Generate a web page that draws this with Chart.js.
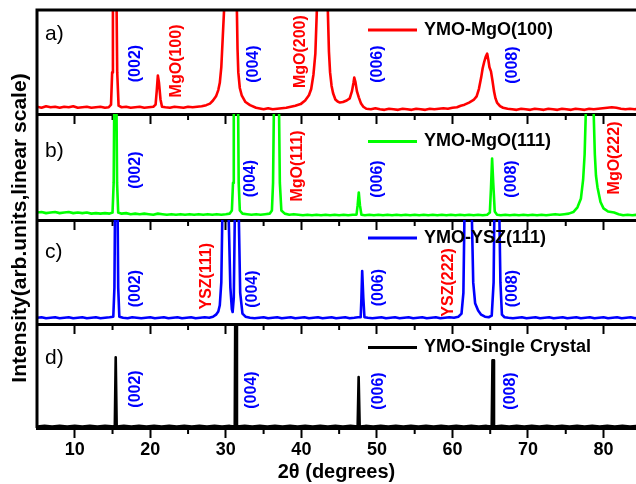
<!DOCTYPE html>
<html>
<head>
<meta charset="utf-8">
<script src="https://cdn.jsdelivr.net/npm/chart.js@4.4.1/dist/chart.umd.min.js"></script>
<style>
  body { margin: 0; background: #fff; }
  #wrap { position: relative; width: 636px; height: 484px; }
  #wrap canvas { position: absolute; left: 0; top: 0; }
</style>
</head>
<body>
<div id="wrap">
  <canvas id="panelA" width="636" height="484"></canvas>
  <canvas id="panelB" width="636" height="484"></canvas>
  <canvas id="panelC" width="636" height="484"></canvas>
  <canvas id="panelD" width="636" height="484"></canvas>
</div>
<script>
// 2theta range and tick labels
const thetaMin = 5;
const thetaMax = 84.3;
const thetaTicks = [10, 20, 30, 40, 50, 60, 70, 80];

// series names
const sampleNames = ['YMO-MgO(100)', 'YMO-MgO(111)', 'YMO-YSZ(111)', 'YMO-Single Crystal'];

// scans: [2theta, intensity] with 100 = top of each panel
const scanA = [[5,7],[5.6,6],[6.2,7.5],[6.8,6.5],[7.4,7],[8,6],[8.6,7],[9.2,6.5],[9.8,7.5],[10.4,6],[11,6.5],[11.6,7],[12.2,6],[12.8,6.5],[13.4,7],[14,6],[14.5,6.5],[14.8,9],[14.95,40],[15.05,130],[15.5,130],[15.62,40],[15.8,8],[16.2,6.5],[16.8,7],[17.4,6],[18,6.5],[18.6,7],[19.2,6],[19.8,6.5],[20.4,7],[20.7,9],[20.85,22],[21.0,37],[21.15,30],[21.35,14],[21.55,7],[22,6.5],[22.6,6],[23.2,7],[23.8,6.5],[24.4,6],[25,7],[25.6,6.5],[26.2,7],[26.8,7.5],[27.4,8.5],[27.9,10],[28.3,13],[28.7,17],[29.0,23],[29.2,30],[29.4,45],[29.6,75],[29.8,105],[30.2,250],[31.0,250],[31.45,105],[31.55,62],[31.65,40],[31.85,25],[32.1,18],[32.6,11.5],[33.2,8.5],[34,6],[35,4.5],[35.6,5.5],[36.2,4.5],[36.8,5],[37.4,5.5],[38,6],[38.6,7],[39.2,8],[39.9,9.5],[40.5,13],[41.0,18],[41.3,24],[41.6,38],[41.85,58],[42.05,100],[42.4,260],[43.2,260],[43.5,100],[43.65,60],[43.8,40],[44.0,27],[44.2,20],[44.5,14],[44.8,12],[45.1,11],[45.5,11.5],[46.0,13],[46.4,15],[46.7,22],[46.9,30],[47.0,35],[47.15,31],[47.35,22],[47.6,16],[47.9,10],[48.2,7],[48.6,5],[49.2,4.5],[49.8,5.5],[50.4,4.5],[51,4],[51.6,5],[52.2,4.5],[52.8,4],[53.4,5],[54,4.5],[54.6,4],[55.2,5],[55.8,4.5],[56.4,4],[57,5],[57.6,4.5],[58.2,5],[58.8,5.5],[59.4,5],[60,6],[60.6,6.5],[61.1,8],[61.6,9],[62.2,11],[62.8,13.5],[63.2,17],[63.5,24],[63.8,35],[64.0,44],[64.2,50],[64.4,55],[64.6,58],[64.75,52],[64.9,45],[65.1,41],[65.3,32],[65.5,22],[65.7,15],[65.9,11],[66.3,7.5],[66.7,6],[67.3,5],[67.9,4.5],[68.5,4],[69.1,5],[69.7,4.5],[70.3,4],[70.9,5],[71.5,4.5],[72.1,4],[72.7,5],[73.3,4.5],[73.9,4],[74.5,5],[75.1,4.5],[75.7,4],[76.3,5],[76.9,4.5],[77.5,4],[78.1,5],[78.7,4.5],[79.3,5],[79.9,5.5],[80.5,6],[81.1,6.5],[81.7,6],[82.3,5],[82.9,4.5],[83.5,5],[84.1,4.5],[84.5,5]];

const scanB = [[5,7],[5.6,7.5],[6.2,6.5],[6.8,7],[7.4,7.5],[8,6.5],[8.6,7],[9.2,7.5],[9.8,6.5],[10.4,7],[11,6.5],[11.6,7],[12.2,6],[12.8,6.5],[13.4,6],[14,6.5],[14.6,6],[15.0,7],[15.15,35],[15.25,130],[15.5,130],[15.6,35],[15.75,7],[16.2,6],[16.8,6.5],[17.4,5.5],[18,6],[18.6,5.5],[19.2,6],[19.8,5.5],[20.4,5],[21,6],[21.6,5.5],[22.2,5],[22.8,5.5],[23.4,5],[24,5.5],[24.6,5],[25.2,5.5],[25.8,5],[26.4,5.5],[27,5],[27.6,5.5],[28.2,5],[28.8,5.5],[29.4,5],[30,5.5],[30.5,6],[30.8,9],[30.95,35],[31.05,130],[31.6,130],[31.7,35],[31.85,9],[32.2,6],[32.8,5.5],[33.4,5],[34,5.5],[34.6,5],[35.2,5.5],[35.8,6],[36.1,9],[36.25,35],[36.4,130],[37.0,130],[37.15,35],[37.35,9],[37.8,6],[38.4,5],[39,5.5],[39.6,5],[40.2,4.5],[40.8,5],[41.4,4.5],[42,5],[42.6,4.5],[43.2,5],[43.8,4.5],[44.4,5],[45,4.5],[45.6,5],[46.2,4.5],[46.8,5],[47.3,5],[47.45,14],[47.6,26],[47.75,14],[47.95,5],[48.4,4.5],[49,5],[49.6,4.5],[50.2,5],[50.8,4.5],[51.4,5],[52,4.5],[52.6,5],[53.2,4.5],[53.8,5],[54.4,4.5],[55,5],[55.6,4.5],[56.2,5],[56.8,4.5],[57.4,5],[58,4.5],[58.6,5],[59.2,4.5],[59.8,5],[60.4,4.5],[61,5],[61.6,4.5],[62.2,5],[62.8,4.5],[63.4,5],[64,4.5],[64.6,5],[64.95,7],[65.1,30],[65.25,58],[65.4,35],[65.6,8],[65.9,5],[66.4,4.5],[67,5],[67.6,4.5],[68.2,5],[68.8,4.5],[69.4,5],[70,4.5],[70.6,5],[71.2,4.5],[71.8,5],[72.4,4.5],[73,5],[73.6,5.5],[74.2,5],[74.8,5.5],[75.4,6],[76,7.5],[76.55,12],[77.0,20],[77.3,38],[77.5,62],[77.65,100],[78.1,280],[78.7,100],[78.85,62],[79.0,42],[79.2,31],[79.6,17],[80.0,11],[80.6,8],[81.4,7],[82,5.5],[82.6,4.5],[83.2,5],[83.8,4.5],[84.5,5]];

const scanC = [[5,6],[5.6,6.5],[6.2,5.5],[6.8,6],[7.4,6.5],[8,5.5],[8.6,6],[9.2,6.5],[9.8,5.5],[10.4,6],[11,6.5],[11.6,5.5],[12.2,6],[12.8,6.5],[13.4,5.5],[14,6],[14.6,6.5],[15.1,7],[15.25,35],[15.35,130],[15.65,130],[15.75,35],[15.9,7],[16.4,6],[17,5.5],[17.6,6.5],[18.2,6],[18.8,5.5],[19.4,6],[20,6.5],[20.6,5.5],[21.2,6],[21.8,6.5],[22.4,5.5],[23,6],[23.6,6.5],[24.2,5.5],[24.8,6],[25.4,6.5],[26,5.5],[26.6,6],[27.2,6.5],[27.8,6],[28.3,7],[28.7,9],[29.0,12],[29.2,18],[29.4,40],[29.55,110],[30.35,110],[30.6,35],[30.8,14],[30.9,11.5],[31.05,25],[31.2,110],[31.7,110],[31.9,30],[32.2,10],[32.6,7],[33.2,6],[33.8,5.5],[34.4,6],[35,6.5],[35.6,5.5],[36.2,6],[36.8,6.5],[37.4,5.5],[38,6],[38.6,6.5],[39.2,5.5],[39.8,6],[40.4,6.5],[41,5.5],[41.6,6],[42.2,6.5],[42.8,5.5],[43.4,6],[44,6.5],[44.6,5.5],[45.2,6],[45.8,6.5],[46.4,5.5],[47,6],[47.5,6.5],[47.85,6.5],[47.95,25],[48.05,51],[48.2,25],[48.35,6.5],[48.8,6],[49.4,5.5],[50,6],[50.6,6.5],[51.2,5.5],[51.8,6],[52.4,6.5],[53,5.5],[53.6,6],[54.2,6.5],[54.8,5.5],[55.4,6],[56,6.5],[56.6,5.5],[57.2,6],[57.8,6.5],[58.4,5.5],[59,6],[59.6,6.5],[60.2,6],[60.8,7],[61.2,10],[61.45,30],[61.6,110],[62.55,110],[62.75,40],[63.0,20],[63.4,13],[63.8,9],[64.3,7],[64.8,6.5],[65.2,8],[65.45,40],[65.55,110],[66.2,110],[66.35,40],[66.55,9],[66.9,6.5],[67.4,6],[68,5.5],[68.6,6],[69.2,6.5],[69.8,5.5],[70.4,6],[71,6.5],[71.6,5.5],[72.2,6],[72.8,6.5],[73.4,5.5],[74,6],[74.6,6.5],[75.2,5.5],[75.8,6],[76.4,6.5],[77,5.5],[77.6,6],[78.2,6.5],[78.8,5.5],[79.4,6],[80,6.5],[80.6,5.5],[81.2,6],[81.8,6.5],[82.4,5.5],[83,6],[83.6,6.5],[84.2,5.5],[84.5,6]];

const scanD = [[5,1.5],[6,2],[7,1.5],[8,2],[9,1.5],[10,2],[11,1.5],[12,2],[13,1.5],[14,2],[15.3,1.5],[15.42,68],[15.55,1.5],[16.5,2],[17.5,1.5],[18.5,2],[19.5,1.5],[20.5,2],[21.5,1.5],[22.5,2],[23.5,1.5],[24.5,2],[25.5,1.5],[26.5,2],[27.5,1.5],[28.5,2],[29.5,1.5],[30.5,2],[31.18,1.5],[31.27,150],[31.37,150],[31.47,1.5],[32.5,2],[33.5,1.5],[34.5,2],[35.5,1.5],[36.5,2],[37.5,1.5],[38.5,2],[39.5,1.5],[40.5,2],[41.5,1.5],[42.5,2],[43.5,1.5],[44.5,2],[45.5,1.5],[46.5,2],[47.45,1.5],[47.58,49],[47.72,1.5],[48.5,2],[49.5,1.5],[50.5,2],[51.5,1.5],[52.5,2],[53.5,1.5],[54.5,2],[55.5,1.5],[56.5,2],[57.5,1.5],[58.5,2],[59.5,1.5],[60.5,2],[61.5,1.5],[62.5,2],[63.5,1.5],[64.5,2],[65.2,1.5],[65.3,65],[65.4,65],[65.5,1.5],[66.5,2],[67.5,1.5],[68.5,2],[69.5,1.5],[70.5,2],[71.5,1.5],[72.5,2],[73.5,1.5],[74.5,2],[75.5,1.5],[76.5,2],[77.5,1.5],[78.5,2],[79.5,1.5],[80.5,2],[81.5,1.5],[82.5,2],[83.5,1.5],[84.5,2]];

// peak labels: [text, 2theta, height in panel units]
const peaksA = [['(002)', 18.1, 48.5], ['MgO(100)', 23.5, 51], ['(004)', 33.65, 48], ['MgO(200)', 39.9, 60], ['(006)', 50.1, 48], ['(008)', 67.95, 47]];
const peaksB = [['(002)', 18.1, 47], ['(004)', 33.3, 39], ['MgO(111)', 39.5, 51], ['(006)', 50.1, 38.7], ['(008)', 67.8, 38.7], ['MgO(222)', 81.5, 58.5]];
const peaksC = [['(002)', 18.0, 34], ['YSZ(111)', 27.5, 46], ['(004)', 33.5, 33.5], ['(006)', 50.2, 35], ['YSZ(222)', 59.5, 40], ['(008)', 67.9, 34]];
const peaksD = [['(002)', 18.1, 37.5], ['(004)', 33.4, 36.5], ['(006)', 50.2, 35.6], ['(008)', 67.7, 35.6]];

const FONT = '"Liberation Sans", Arial, sans-serif';
Chart.defaults.font.family = FONT;
Chart.defaults.color = '#000';

// frame, minor ticks, panel letter, legend and peak labels
const panelDecor = {
  id: 'panelDecor',
  afterDraw(chart, args, opts) {
    const { ctx, chartArea: area, scales: { x, y } } = chart;
    ctx.save();
    ctx.strokeStyle = '#000';
    ctx.lineWidth = 3;
    ctx.beginPath();
    ctx.moveTo(area.left, area.bottom);
    ctx.lineTo(area.left, area.top);
    if (opts.topBorder) ctx.lineTo(area.right + 2, area.top);
    ctx.stroke();

    ctx.lineWidth = 2;
    ctx.beginPath();
    for (let v = 15; v < x.max; v += 10) {
      const px = x.getPixelForValue(v);
      ctx.moveTo(px, area.bottom);
      ctx.lineTo(px, area.bottom + 6);
    }
    ctx.stroke();

    ctx.fillStyle = '#000';
    ctx.font = '21px ' + FONT;
    ctx.textAlign = 'left';
    ctx.textBaseline = 'middle';
    ctx.fillText(opts.letter, 45, area.top + opts.letterY);

    const ds = chart.data.datasets[0];
    const ly = area.top + opts.legendY;
    ctx.strokeStyle = ds.borderColor;
    ctx.lineWidth = 3;
    ctx.beginPath();
    ctx.moveTo(368, ly);
    ctx.lineTo(417, ly);
    ctx.stroke();
    ctx.font = 'bold 18px ' + FONT;
    ctx.fillText(ds.label, 424, ly);

    ctx.font = 'bold 16px ' + FONT;
    ctx.textAlign = 'center';
    opts.peaks.forEach(([text, tx, ty]) => {
      ctx.save();
      ctx.translate(x.getPixelForValue(tx), y.getPixelForValue(ty));
      ctx.rotate(-Math.PI / 2);
      ctx.fillStyle = text.startsWith('(') ? '#0000ff' : '#ff0000';
      ctx.fillText(text, 0, 0);
      ctx.restore();
    });

    if (opts.yTitle) {
      ctx.save();
      ctx.translate(20, 228);
      ctx.rotate(-Math.PI / 2);
      ctx.fillStyle = '#000';
      ctx.font = 'bold 21px ' + FONT;
      ctx.fillText(opts.yTitle, 0, 0);
      ctx.restore();
    }
    ctx.restore();
  }
};

function makePanel(id, scan, name, color, peaks, geo) {
  const last = geo.last;
  return new Chart(document.getElementById(id), {
    type: 'line',
    data: {
      datasets: [{
        label: name,
        data: scan,
        borderColor: color,
        borderWidth: 2.6,
        borderJoinStyle: 'round',
        pointRadius: 0,
        fill: false
      }]
    },
    options: {
      responsive: false,
      animation: false,
      events: [],
      layout: { padding: { left: 37, right: 0, top: geo.top, bottom: last ? 0 : 484 - geo.bottom - 10 } },
      plugins: {
        legend: { display: false },
        tooltip: { enabled: false },
        panelDecor: {
          letter: geo.letter, letterY: geo.letterY, legendY: geo.legendY,
          peaks: peaks, topBorder: geo.topBorder, yTitle: geo.yTitle
        }
      },
      scales: {
        x: {
          type: 'linear',
          min: thetaMin,
          max: thetaMax,
          afterFit: s => { s.height = last ? 484 - geo.bottom : 10; },
          afterBuildTicks: s => { s.ticks = thetaTicks.map(v => ({ value: v })); },
          ticks: {
            display: last,
            padding: 1,
            maxRotation: 0,
            autoSkip: false,
            font: { size: 18, weight: 'bold' },
            color: '#000'
          },
          grid: { drawOnChartArea: false, drawTicks: true, tickLength: 10, tickWidth: 2, tickColor: '#000' },
          border: { display: true, color: '#000', width: 3 },
          title: {
            display: last,
            text: '2θ (degrees)',
            font: { size: 20, weight: 'bold' },
            color: '#000',
            padding: { top: 0, bottom: 0 }
          }
        },
        y: { display: false, min: 0, max: 100 }
      }
    },
    plugins: [panelDecor]
  });
}

makePanel('panelA', scanA, sampleNames[0], '#ff0000', peaksA,
  { top: 10, bottom: 114, letter: 'a)', letterY: 24, legendY: 20, topBorder: true,
    yTitle: 'Intensity(arb.units,linear scale)' });
makePanel('panelB', scanB, sampleNames[1], '#00ff00', peaksB,
  { top: 114, bottom: 220, letter: 'b)', letterY: 37, legendY: 27.5 });
makePanel('panelC', scanC, sampleNames[2], '#0000ff', peaksC,
  { top: 220, bottom: 324, letter: 'c)', letterY: 32, legendY: 18 });
makePanel('panelD', scanD, sampleNames[3], '#000000', peaksD,
  { top: 324, bottom: 428, letter: 'd)', letterY: 34, legendY: 23.5, last: true });
</script>
</body>
</html>
